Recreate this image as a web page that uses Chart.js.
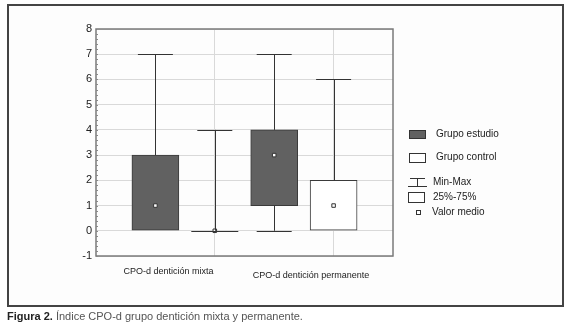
<!DOCTYPE html>
<html>
<head>
<meta charset="utf-8">
<script src="https://cdn.jsdelivr.net/npm/chart.js@4"></script>
<style>
  html, body { margin: 0; padding: 0; background: #fff; }
  body { width: 568px; height: 334px; position: relative; overflow: hidden; font-family: Arial, "Liberation Sans", sans-serif; }
  #frame { position: absolute; left: 7px; top: 4px; width: 553px; height: 299px; border: 2px solid #444; background: #fdfdfd; }
  #wrap { position: absolute; left: 0; top: 0; width: 568px; height: 334px; }
  .lg { position: absolute; font-size: 10px; color: #222; line-height: 12px; }
  .sw { position: absolute; width: 17px; box-sizing: border-box; border: 1px solid #333; }
  #caption { position: absolute; left: 7px; top: 310px; font-size: 11px; color: #555; white-space: nowrap; }
  #caption b { color: #222; }
</style>
</head>
<body>
<div id="frame"></div>
<div id="wrap"><canvas id="chart" width="568" height="334"></canvas></div>

<div class="sw" style="left:409px;top:130px;height:9px;background:#616161;"></div>
<div class="lg" style="left:436px;top:128px;">Grupo estudio</div>
<div class="sw" style="left:409px;top:153px;height:10px;background:#fff;"></div>
<div class="lg" style="left:436px;top:151px;">Grupo control</div>
<svg style="position:absolute;left:407px;top:176px;" width="22" height="12">
  <line x1="3" y1="2.5" x2="18" y2="2.5" stroke="#333" stroke-width="1"/>
  <line x1="10.5" y1="2.5" x2="10.5" y2="10.5" stroke="#333" stroke-width="1"/>
  <line x1="1" y1="10.5" x2="20" y2="10.5" stroke="#333" stroke-width="1"/>
</svg>
<div class="lg" style="left:433px;top:176px;">Min-Max</div>
<div class="sw" style="left:408px;top:192px;height:11px;background:#fff;"></div>
<div class="lg" style="left:433px;top:191px;">25%-75%</div>
<div class="sw" style="left:416px;top:210px;width:5px;height:5px;background:#fff;"></div>
<div class="lg" style="left:432px;top:206px;">Valor medio</div>

<div id="caption"><b>Figura 2.</b> Índice CPO-d grupo dentición mixta y permanente.</div>

<script>
// box positions on the x axis (1..4), two groups per category
const categories = ['CPO-d dentición mixta', 'CPO-d dentición permanente'];
const estudioPos = [1, 3];
const controlPos = [2, 4];

// Grupo estudio
const estudioMin = [0, 0];
const estudioQ1 = [0, 1];
const estudioQ3 = [3, 4];
const estudioMax = [7, 7];
const estudioMedio = [1, 3];

// Grupo control
const controlMin = [0, 0];
const controlQ1 = [0, 0];
const controlQ3 = [0, 2];
const controlMax = [4, 6];
const controlMedio = [0, 1];

const yTicks = [-1, 0, 1, 2, 3, 4, 5, 6, 7, 8];
const labelPos = [1.22, 3.62];

const boxes = [];
estudioPos.forEach((p, i) => boxes.push({ x: p, min: estudioMin[i], q1: estudioQ1[i], q3: estudioQ3[i], max: estudioMax[i] }));
controlPos.forEach((p, i) => boxes.push({ x: p, min: controlMin[i], q1: controlQ1[i], q3: controlQ3[i], max: controlMax[i] }));

const BOX_W = 47;
const CAP_W = 35;

const whiskers = {
  id: 'whiskers',
  afterDatasetsDraw(chart) {
    const ctx = chart.ctx;
    const xs = chart.scales.x, ys = chart.scales.y;
    ctx.save();
    ctx.strokeStyle = '#333';
    ctx.lineWidth = 1;
    const hline = (x0, x1, y) => {
      y = Math.round(y) + 0.5;
      ctx.beginPath(); ctx.moveTo(x0, y); ctx.lineTo(x1, y); ctx.stroke();
    };
    const vline = (x, y0, y1) => {
      x = Math.round(x) + 0.5;
      ctx.beginPath(); ctx.moveTo(x, y0); ctx.lineTo(x, y1); ctx.stroke();
    };
    boxes.forEach(b => {
      const cx = xs.getPixelForValue(b.x);
      vline(cx, ys.getPixelForValue(b.max), ys.getPixelForValue(b.q3));
      hline(cx - CAP_W / 2, cx + CAP_W / 2, ys.getPixelForValue(b.max));
      if (b.min < b.q1) {
        vline(cx, ys.getPixelForValue(b.q1), ys.getPixelForValue(b.min));
        hline(cx - CAP_W / 2, cx + CAP_W / 2, ys.getPixelForValue(b.min));
      }
      if (b.q1 === b.q3) {
        hline(cx - BOX_W / 2, cx + BOX_W / 2, ys.getPixelForValue(b.q1));
      }
    });
    ctx.restore();
  },
  afterDraw(chart) {
    // plot frame
    const a = chart.chartArea;
    const ctx = chart.ctx;
    ctx.save();
    ctx.strokeStyle = '#7a7a7a';
    ctx.lineWidth = 1.5;
    ctx.strokeRect(a.left, a.top, a.right - a.left, a.bottom - a.top);
    // small minor ticks on the left axis
    ctx.strokeStyle = '#888';
    ctx.lineWidth = 1;
    const ys = chart.scales.y;
    for (let v = -1; v <= 8; v += 0.2) {
      const y = Math.round(ys.getPixelForValue(v)) + 0.5;
      ctx.beginPath(); ctx.moveTo(a.left, y); ctx.lineTo(a.left + 2, y); ctx.stroke();
    }
    ctx.restore();
  }
};

new Chart(document.getElementById('chart'), {
  type: 'bar',
  data: {
    datasets: [
      {
        type: 'scatter',
        label: 'Valor medio',
        data: estudioPos.map((p, i) => ({ x: p, y: estudioMedio[i] }))
          .concat(controlPos.map((p, i) => ({ x: p, y: controlMedio[i] }))),
        pointStyle: 'rect',
        radius: 2.5,
        backgroundColor: '#fff',
        borderColor: '#333',
        borderWidth: 1,
        order: 0
      },
      {
        label: 'Grupo estudio',
        data: estudioPos.map((p, i) => ({ x: p, y: [estudioQ1[i], estudioQ3[i]] })),
        backgroundColor: '#616161',
        borderColor: '#3a3a3a',
        borderWidth: 1,
        borderSkipped: false,
        barThickness: BOX_W,
        grouped: false,
        order: 2
      },
      {
        label: 'Grupo control',
        data: controlPos.map((p, i) => ({ x: p, y: [controlQ1[i], controlQ3[i]] })),
        backgroundColor: '#fff',
        borderColor: '#3a3a3a',
        borderWidth: 1,
        borderSkipped: false,
        barThickness: BOX_W,
        grouped: false,
        order: 2
      }
    ]
  },
  options: {
    responsive: false,
    animation: false,
    layout: { padding: { left: 66, top: 29, right: 175, bottom: 48 } },
    plugins: { legend: { display: false }, tooltip: { enabled: false } },
    scales: {
      x: {
        type: 'linear',
        min: 0, max: 5,
        offset: false,
        weight: 0,
        afterBuildTicks: s => { s.ticks = controlPos.map(v => ({ value: v })); },
        afterFit: s => { s.height = 0; },
        ticks: { display: false },
        grid: { color: '#d9d9d9', drawTicks: false, offset: false },
        border: { display: false }
      },
      xl: {
        type: 'linear',
        position: 'bottom',
        axis: 'x',
        min: 0, max: 5,
        offset: false,
        weight: 1,
        afterBuildTicks: s => { s.ticks = labelPos.map(v => ({ value: v })); },
        afterFit: s => { s.height = 30; },
        ticks: {
          callback: (v, i) => categories[i],
          // the second label sits a little lower in the original
          font: c => ({ family: 'Arial', size: 9, lineHeight: c.index === 1 ? 2.2 : 1.2 }),
          color: '#222',
          padding: 10,
          maxRotation: 0,
          autoSkip: false
        },
        grid: { display: false, drawTicks: false },
        border: { display: false }
      },
      y: {
        min: -1, max: 8,
        afterBuildTicks: s => { s.ticks = yTicks.map(v => ({ value: v })); },
        afterFit: s => { s.width = 30; },
        ticks: { font: { family: 'Arial', size: 11 }, color: '#222', padding: 4 },
        grid: { color: '#d9d9d9', drawTicks: false },
        border: { display: false }
      }
    }
  },
  plugins: [whiskers]
});
</script>
</body>
</html>
